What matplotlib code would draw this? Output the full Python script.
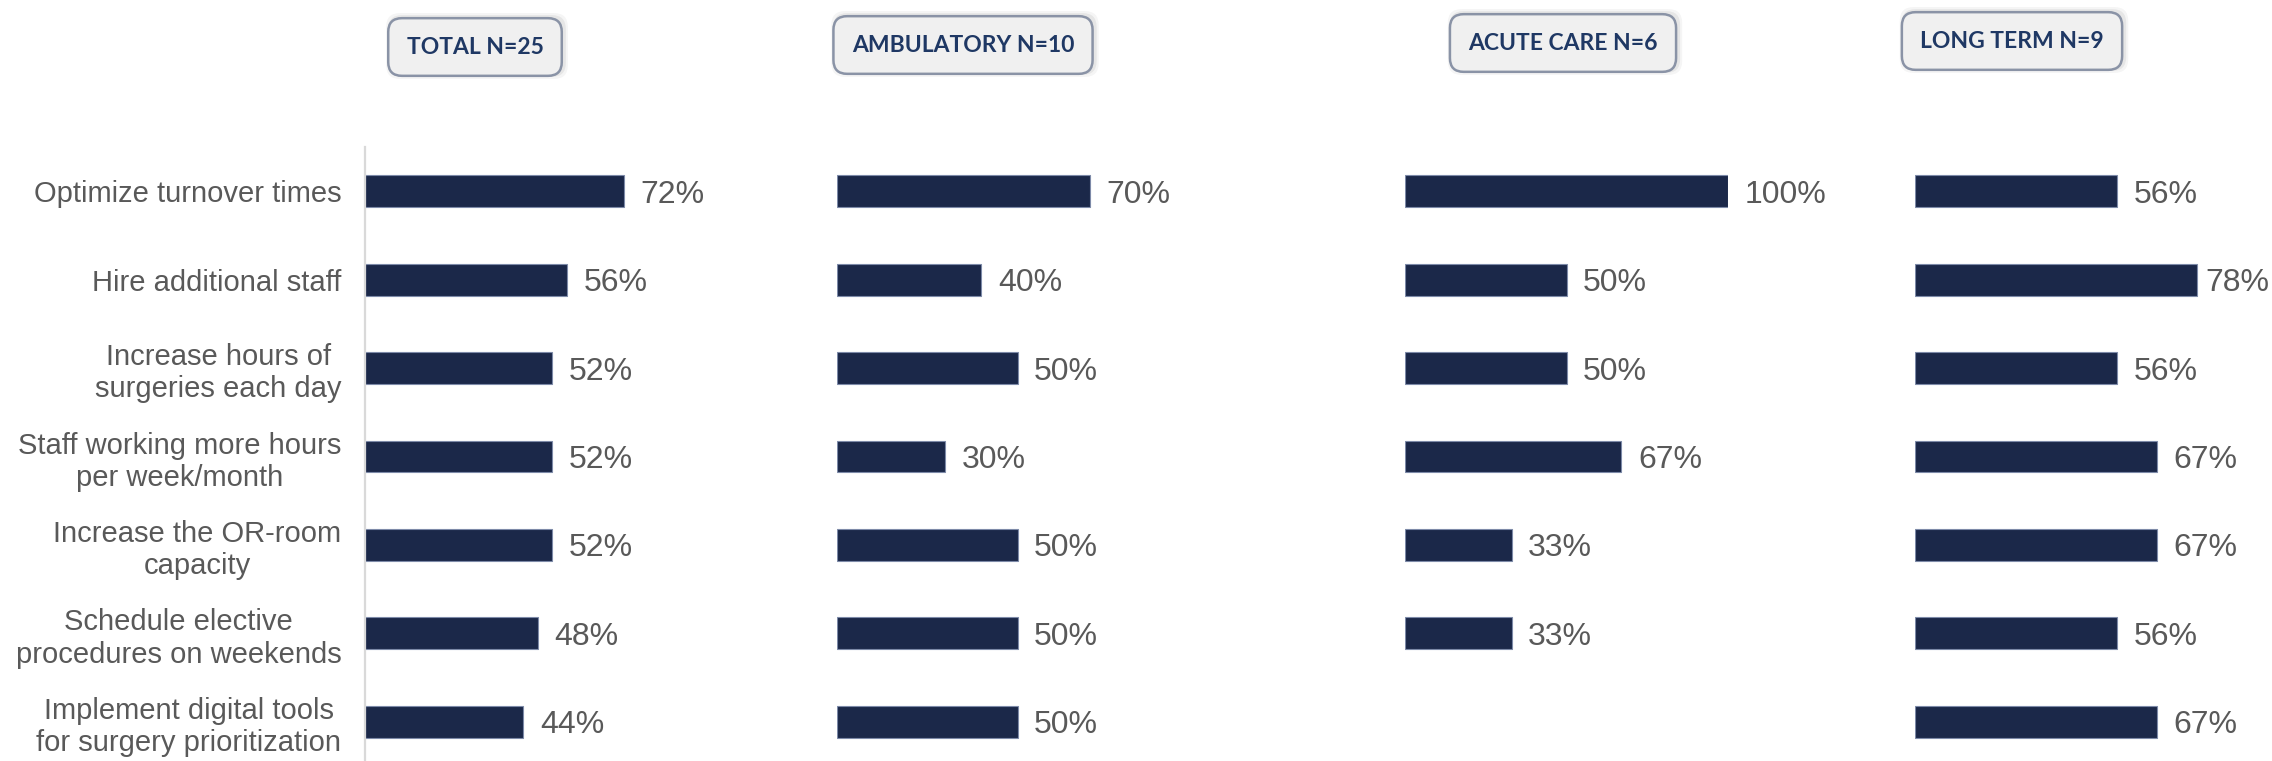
import matplotlib.pyplot as plt
import numpy as np

# survey: measures to reduce surgical backlog, by care setting
categories = [
    "Optimize turnover times",
    "Hire additional staff",
    "Increase hours of\nsurgeries each day",
    "Staff working more hours\nper week/month",
    "Increase the OR-room\ncapacity",
    "Schedule elective\nprocedures on weekends",
    "Implement digital tools\nfor surgery prioritization",
]
panel_titles = ["TOTAL N=25", "AMBULATORY N=10", "ACUTE CARE N=6", "LONG TERM N=9"]
total = [72, 56, 52, 52, 52, 48, 44]
ambulatory = [70, 40, 50, 30, 50, 50, 50]
acute_care = [100, 50, 50, 67, 33, 33, np.nan]
long_term = [56, 78, 56, 67, 67, 56, 67]

bar_color = "#1B2849"
text_gray = "#595959"
navy = "#1F3864"

plt.rcParams["font.family"] = ["Liberation Sans", "DejaVu Sans"]

W, H = 2272, 761
fig = plt.figure(figsize=(W / 100, H / 100), dpi=100)

# panel placement in pixels: left edge, width of 100%
panels = [(365, 360), (837, 361), (1405, 323), (1915, 361)]
# header boxes: centre in pixels
headers = [(475, 47), (963, 45), (1563, 43), (2012, 41)]

top_px, bot_px = 147, 766
y = np.arange(len(categories))
value_labels = []

for i, vals in enumerate([total, ambulatory, acute_care, long_term]):
    left, width = panels[i]
    ax = fig.add_axes([left / W, (H - bot_px) / H, width / W, (bot_px - top_px) / H])
    vals = np.array(vals, dtype=float)
    ok = ~np.isnan(vals)
    ax.barh(y[ok], vals[ok], height=0.36, color=bar_color,
            edgecolor="#7d8aa8", linewidth=0.8)
    for yy, v in zip(y[ok], vals[ok]):
        t = ax.annotate(f"{v:.0f}%", (v, yy), xytext=(12, 0), textcoords="offset points",
                        va="center_baseline", ha="left", fontsize=23, color=text_gray)
        value_labels.append(t)
    ax.set_xlim(0, 100)
    ax.set_ylim(len(categories) - 0.5, -0.5)
    ax.set_xticks([])
    for s in ["top", "right", "bottom"]:
        ax.spines[s].set_visible(False)
    if i == 0:
        ax.spines["left"].set_color("#D9D9D9")
        ax.spines["left"].set_linewidth(1.6)
        ax.set_yticks(y)
        ax.set_yticklabels(categories, fontsize=21, color=text_gray,
                           multialignment="center")
        ax.tick_params(axis="y", length=0, pad=17)
    else:
        ax.spines["left"].set_visible(False)
        ax.set_yticks([])
    ax.patch.set_alpha(0)

    # header box with a soft shadow
    cx, cy = headers[i]
    for k, a in [(6, 0.04), (3, 0.06)]:
        fig.text((cx + 2) / W, (H - cy + 1) / H, panel_titles[i], ha="center", va="center",
                 fontsize=16.5, fontweight="bold", family="Lato", color="none",
                 bbox=dict(boxstyle=f"round,pad={0.8 + k * 0.03},rounding_size=0.6",
                           facecolor="#000000", alpha=a, edgecolor="none"))
    fig.text(cx / W, (H - cy) / H, panel_titles[i], ha="center", va="center",
             fontsize=16.5, fontweight="bold", family="Lato", color=navy,
             bbox=dict(boxstyle="round,pad=0.8,rounding_size=0.6",
                       facecolor="#F0F0F0", edgecolor="#8A93A6", linewidth=1.8))

# pull in value labels that would run off the right edge
fig.canvas.draw()
renderer = fig.canvas.get_renderer()
for t in value_labels:
    bb = t.get_window_extent(renderer)
    over = bb.x1 - (W - 3)
    if over > 0:
        dx, dy = t.xyann
        t.xyann = (dx - over * 72 / 100, dy)

fig.savefig("out.png", dpi=100)
plt.close()
